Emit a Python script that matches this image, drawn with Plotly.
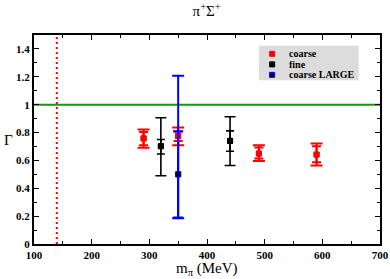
import plotly.graph_objects as go

# ---------------- data ----------------
coarse_x = [290, 350, 490, 590]
coarse_y = [0.758, 0.775, 0.649, 0.642]
coarse_in_plus = [0.045, 0.030, 0.044, 0.060]
coarse_in_minus = [0.049, 0.035, 0.036, 0.055]
coarse_out_plus = [0.064, 0.062, 0.060, 0.079]
coarse_out_minus = [0.068, 0.066, 0.053, 0.079]

fine_x = [320, 440]
fine_y = [0.702, 0.740]
fine_in_plus = [0.048, 0.072]
fine_in_minus = [0.056, 0.074]
fine_out_plus = [0.204, 0.173]
fine_out_minus = [0.212, 0.177]

large_x = [350]
large_y = [0.50]
large_in_plus = [0.31]
large_in_minus = [0.31]
large_out_plus = [0.707]
large_out_minus = [0.315]

phys_mpi = 139.57
unitary = 1.0

legend_names = ["coarse", "fine", "coarse LARGE"]
legend_fill = ["red", "black", "black"]
legend_line = ["red", "black", "blue"]
legend_y = [1.365, 1.289, 1.214]
legend_marker_x = 513
legend_text_x = 538

x_ticks = [100, 200, 300, 400, 500, 600, 700]
y_ticks = [0, 0.2, 0.4, 0.6, 0.8, 1.0, 1.2, 1.4]
y_ticklabels = ["0", "0.2", "0.4", "0.6", "0.8", "1", "1.2", "1.4"]

SERIF = "Liberation Serif, Times New Roman, serif"

fig = go.Figure()


def add_series(x, y, ip, im, op, om, color, fill, cap_out, cap_in, thick):
    # outer (total) error bars
    fig.add_trace(go.Scatter(
        x=x, y=y, mode="markers",
        marker=dict(symbol="square", size=5, color=fill,
                    line=dict(color=color, width=1)),
        error_y=dict(type="data", symmetric=False, array=op, arrayminus=om,
                     color=color, thickness=thick, width=cap_out),
        showlegend=False, hoverinfo="skip"))
    # inner (statistical) error bars
    fig.add_trace(go.Scatter(
        x=x, y=y, mode="markers",
        marker=dict(symbol="square", size=5, color=fill,
                    line=dict(color=color, width=1)),
        error_y=dict(type="data", symmetric=False, array=ip, arrayminus=im,
                     color=color, thickness=thick, width=cap_in),
        showlegend=False, hoverinfo="skip"))


add_series(coarse_x, coarse_y, coarse_in_plus, coarse_in_minus,
           coarse_out_plus, coarse_out_minus, "red", "red", 6, 4.5, 2)
add_series(fine_x, fine_y, fine_in_plus, fine_in_minus,
           fine_out_plus, fine_out_minus, "black", "black", 5.5, 4, 1.6)
add_series(large_x, large_y, large_in_plus, large_in_minus,
           large_out_plus, large_out_minus, "blue", "black", 6, 5, 2)

# manual legend markers
fig.add_trace(go.Scatter(
    x=[legend_marker_x] * 3, y=legend_y, mode="markers",
    marker=dict(symbol="square", size=5, color=legend_fill,
                line=dict(color=legend_line, width=1)),
    showlegend=False, hoverinfo="skip"))

shapes = [
    dict(type="rect", xref="x", yref="y", x0=490, x1=663, y0=1.175, y1=1.423,
         fillcolor="#dcdcdc", line=dict(width=0), layer="below"),
    dict(type="line", xref="x", yref="y", x0=100, x1=700, y0=unitary, y1=unitary,
         line=dict(color="#119911", width=2), layer="below"),
    dict(type="line", xref="x", yref="y", x0=phys_mpi, x1=phys_mpi, y0=0, y1=1.5,
         line=dict(color="red", width=2, dash="2px,3px"), layer="below"),
]

annotations = []
for name, yy in zip(legend_names, legend_y):
    annotations.append(dict(
        x=legend_text_x, y=yy, xref="x", yref="y", text=name, showarrow=False,
        xanchor="left", yanchor="middle",
        font=dict(family=SERIF, size=10, color="black", weight="bold")))

# axis titles
annotations.append(dict(
    x=0.5, y=-0.122, xref="paper", yref="paper", text="m<sub>π</sub> (MeV)",
    showarrow=False, xanchor="center", yanchor="middle",
    font=dict(family=SERIF, size=15, color="black")))
annotations.append(dict(
    x=-0.075, y=0.5, xref="paper", yref="paper", text="Γ",
    showarrow=False, xanchor="center", yanchor="middle",
    font=dict(family=SERIF, size=15, color="black")))

axis_common = dict(
    showgrid=False, zeroline=False, showline=True, linecolor="black",
    linewidth=2, mirror="ticks", ticks="inside", ticklen=5, tickwidth=1,
    tickcolor="black", automargin=False,
    tickfont=dict(family=SERIF, size=11, color="black", weight="bold"),
)

fig.update_layout(
    width=390, height=279,
    margin=dict(l=34, r=10, t=35, b=35),
    paper_bgcolor="white", plot_bgcolor="white",
    showlegend=False,
    shapes=shapes, annotations=annotations,
    title=dict(text="π<sup>+</sup>Σ<sup>+</sup>", x=0.53, xanchor="center",
               y=0.962, yanchor="middle", yref="container", automargin=False,
               font=dict(family=SERIF, size=15, color="black")),
    xaxis=dict(range=[100, 700], tickvals=x_ticks,
               ticktext=[str(v) for v in x_ticks],
               minor=dict(dtick=50, tick0=0, ticks="inside", ticklen=3,
                          tickcolor="black", tickwidth=1),
               **axis_common),
    yaxis=dict(range=[0, 1.5], tickvals=y_ticks, ticktext=y_ticklabels,
               minor=dict(dtick=0.1, tick0=0, ticks="inside", ticklen=3,
                          tickcolor="black", tickwidth=1),
               **axis_common),
)

fig.write_html(
    "out.html",
    config={"displayModeBar": False},
    post_script="document.body.style.margin='0px';"
                "document.body.style.overflow='hidden';")
